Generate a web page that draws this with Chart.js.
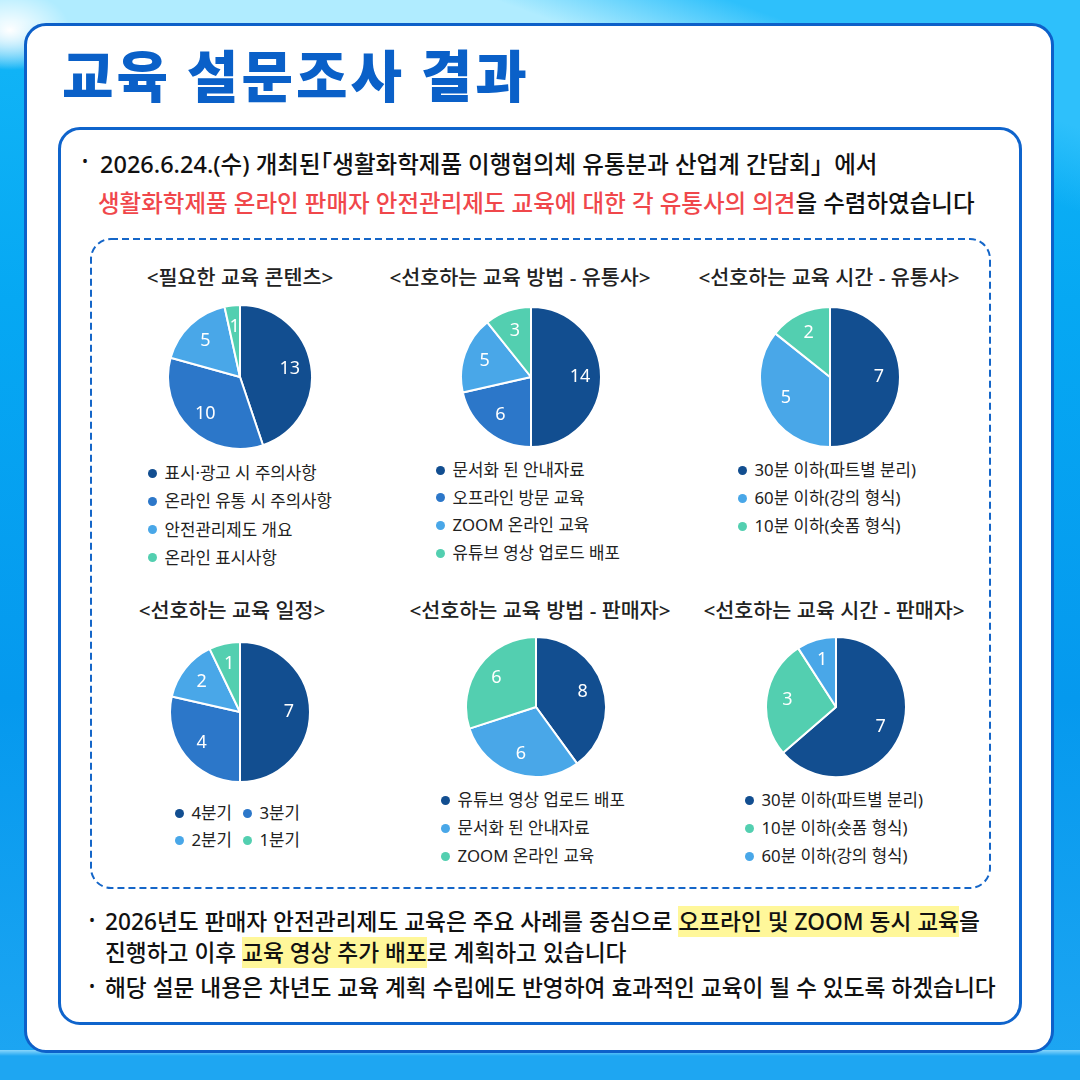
<!DOCTYPE html>
<html><head><meta charset="utf-8">
<script src="https://cdn.jsdelivr.net/npm/chart.js@4.4.1/dist/chart.umd.min.js"></script>
<style>
html,body{margin:0;padding:0;}
body{width:1080px;height:1080px;position:relative;overflow:hidden;font-family:"Noto Sans","Noto Sans CJK KR",sans-serif;
 background:
  radial-gradient(ellipse 60px 40px at 10px 30px, #ffffff 0%, rgba(255,255,255,0) 100%),
  linear-gradient(200deg, #2ec0fb 0px, #2ec0fb 120px, rgba(46,192,251,0) 200px),
  linear-gradient(180deg,#b0ecff 0px,#b0ecff 22px,#7fd8fb 40px,#10b3f6 70px,#06a8f3 300px,#0599ee 700px,#1ea6f2 1080px);}
.strip{position:absolute;left:0;top:1050px;width:1080px;height:30px;background:linear-gradient(180deg,#8ad6fb 0px,#1ea6f2 6px,#1ea6f2 100%);}
.card{position:absolute;left:24px;top:23px;width:1030px;height:1030px;box-sizing:border-box;border:3px solid #0d60c9;border-radius:22px;background:#fff;}
.inner{position:absolute;left:58px;top:127px;width:964px;height:898px;box-sizing:border-box;border:3px solid #0f64cc;border-radius:22px;background:#fff;}
.title{position:absolute;left:62px;top:43px;font-family:"Noto Sans CJK KR",sans-serif;font-size:56px;line-height:60px;font-weight:900;color:#0a60c8;white-space:nowrap;letter-spacing:3px;}
.line{position:absolute;white-space:nowrap;line-height:30px;color:#111;font-weight:500;}
.top{font-size:23.5px;}
.bot{font-size:22.7px;}
.bul{position:absolute;font-size:16px;line-height:30px;color:#111;}
.red{color:#f0474b;}
.hl{background:#fff79a;}
.cjk{font-family:"Noto Sans CJK KR";}
.halt{font-family:"Noto Sans CJK KR";font-feature-settings:"halt";}
.ctitle{position:absolute;width:340px;text-align:center;font-size:20.7px;line-height:26px;font-weight:500;color:#222;white-space:nowrap;}
.leg{position:absolute;font-size:16.8px;color:#222;white-space:nowrap;}
.leg .it{position:absolute;height:26px;line-height:26px;}
.leg .dot{position:absolute;left:0;top:8.5px;width:9px;height:9px;border-radius:50%;}
.leg .tx{position:absolute;left:17px;top:0;}
canvas{position:absolute;}
svg{position:absolute;left:0;top:0;}
</style></head>
<body>
<div class="strip"></div>
<div class="card"></div>
<div class="title">교육 설문조사 결과</div>
<div class="inner"></div>
<svg width="1080" height="1080"><rect x="91" y="239" width="899" height="649" rx="20" ry="20" fill="none" stroke="#1566c8" stroke-width="2" stroke-dasharray="7 4"/></svg>

<div class="bul" style="left:82px;top:146px;">•</div>
<div class="line top" style="left:100px;top:148px;">2026.6.24.(수) 개최된<span class="halt">「</span>생활화학제품 이행협의체 유통분과 산업계 간담회<span class="cjk">」</span>에서</div>
<div class="line top" style="left:98px;top:188px;"><span class="red">생활화학제품 온라인 판매자 안전관리제도 교육에 대한 각 유통사의 의견</span>을 수렴하였습니다</div>

<div class="bul" style="left:89px;top:905px;">•</div>
<div class="line bot" style="left:105px;top:907px;">2026년도 판매자 안전관리제도 교육은 주요 사례를 중심으로 <span class="hl">오프라인 및 ZOOM 동시 교육</span>을</div>
<div class="line bot" style="left:105px;top:938px;">진행하고 이후 <span class="hl">교육 영상 추가 배포</span>로 계획하고 있습니다</div>
<div class="bul" style="left:89px;top:971px;">•</div>
<div class="line bot" style="left:105px;top:973px;">해당 설문 내용은 차년도 교육 계획 수립에도 반영하여 효과적인 교육이 될 수 있도록 하겠습니다</div>

<div id="host"></div>

<script>
// ---- data ----
const chartTitles = ['<필요한 교육 콘텐츠>','<선호하는 교육 방법 - 유통사>','<선호하는 교육 시간 - 유통사>','<선호하는 교육 일정>','<선호하는 교육 방법 - 판매자>','<선호하는 교육 시간 - 판매자>'];
const chart1Labels = ['표시·광고 시 주의사항','온라인 유통 시 주의사항','안전관리제도 개요','온라인 표시사항'];
const chart1Values = [13,10,5,1];
const chart2Labels = ['문서화 된 안내자료','오프라인 방문 교육','ZOOM 온라인 교육','유튜브 영상 업로드 배포'];
const chart2Values = [14,6,5,3];
const chart3Labels = ['30분 이하(파트별 분리)','60분 이하(강의 형식)','10분 이하(숏폼 형식)'];
const chart3Values = [7,5,2];
const chart4Labels = ['4분기','3분기','2분기','1분기'];
const chart4Values = [7,4,2,1];
const chart5Labels = ['유튜브 영상 업로드 배포','문서화 된 안내자료','ZOOM 온라인 교육'];
const chart5Values = [8,6,6];
const chart6Labels = ['30분 이하(파트별 분리)','10분 이하(숏폼 형식)','60분 이하(강의 형식)'];
const chart6Values = [7,3,1];

// ---- styling / layout ----
const DARK='#124e90', MED='#2c77c9', LIGHT='#49a7e8', TEAL='#53cfb0';
const charts = [
 {labels:chart1Labels, values:chart1Values, colors:[DARK,MED,LIGHT,TEAL], cx:240, cy:377, size:146, tx:240, ty:277,
  leg:{x:152, y:473, dy:28.3, cols:1}},
 {labels:chart2Labels, values:chart2Values, colors:[DARK,MED,LIGHT,TEAL], cx:531, cy:377, size:142, tx:520, ty:277,
  leg:{x:440, y:470, dy:27.7, cols:1}},
 {labels:chart3Labels, values:chart3Values, colors:[DARK,LIGHT,TEAL], cx:830, cy:377, size:142, tx:829, ty:277,
  leg:{x:742, y:470, dy:28, cols:1}},
 {labels:chart4Labels, values:chart4Values, colors:[DARK,MED,LIGHT,TEAL], cx:239.5, cy:711.5, size:142, tx:232, ty:610,
  leg:{x:179, y:813, dy:27, cols:2, dx:68}},
 {labels:chart5Labels, values:chart5Values, colors:[DARK,LIGHT,TEAL], cx:536, cy:706.5, size:142, tx:540, ty:610,
  leg:{x:445, y:800, dy:28, cols:1}},
 {labels:chart6Labels, values:chart6Values, colors:[DARK,TEAL,LIGHT], cx:836, cy:706.5, size:142, tx:834, ty:610,
  leg:{x:749, y:800, dy:28, cols:1}}
];

const valueLabels = {
  id:'valueLabels',
  afterDatasetsDraw(chart){
    const ctx = chart.ctx;
    const meta = chart.getDatasetMeta(0);
    const data = chart.data.datasets[0].data;
    ctx.save();
    ctx.fillStyle = '#ffffff';
    ctx.font = '400 18px "Noto Sans", "Noto Sans CJK KR", sans-serif';
    ctx.textAlign = 'center';
    ctx.textBaseline = 'middle';
    meta.data.forEach((arc,i)=>{
      const p = arc.getProps(['x','y','startAngle','endAngle','outerRadius'], true);
      const a = (p.startAngle + p.endAngle)/2;
      const r = p.outerRadius*0.7;
      ctx.fillText(String(data[i]), p.x + Math.cos(a)*r, p.y + Math.sin(a)*r);
    });
    ctx.restore();
  }
};

const host = document.getElementById('host');
charts.forEach((c,k)=>{
  const t = document.createElement('div');
  t.className='ctitle';
  t.textContent = chartTitles[k];
  t.style.left = (c.tx-170)+'px';
  t.style.top = (c.ty-13)+'px';
  host.appendChild(t);

  const cv = document.createElement('canvas');
  cv.width = c.size; cv.height = c.size;
  cv.style.left = (c.cx - c.size/2)+'px';
  cv.style.top = (c.cy - c.size/2)+'px';
  cv.style.width = c.size+'px'; cv.style.height = c.size+'px';
  host.appendChild(cv);

  new Chart(cv.getContext('2d'), {
    type:'pie',
    data:{labels:c.labels, datasets:[{data:c.values, backgroundColor:c.colors, borderColor:'#ffffff', borderWidth:2, hoverOffset:0}]},
    options:{responsive:false, animation:false, devicePixelRatio:1,
      layout:{padding:0},
      plugins:{legend:{display:false}, tooltip:{enabled:false}}},
    plugins:[valueLabels]
  });

  const lg = document.createElement('div');
  lg.className='leg';
  lg.style.left = (c.leg.x-4.5)+'px';
  lg.style.top = '0px';
  c.labels.forEach((lab,i)=>{
    const col = i % c.leg.cols, row = Math.floor(i / c.leg.cols);
    const it = document.createElement('div');
    it.className='it';
    it.style.left = (col*(c.leg.dx||0))+'px';
    it.style.top = (c.leg.y + row*c.leg.dy - 13)+'px';
    const d = document.createElement('span'); d.className='dot'; d.style.background=c.colors[i];
    const s = document.createElement('span'); s.className='tx'; s.textContent=lab;
    it.appendChild(d); it.appendChild(s);
    lg.appendChild(it);
  });
  host.appendChild(lg);
});
</script>
</body></html>
